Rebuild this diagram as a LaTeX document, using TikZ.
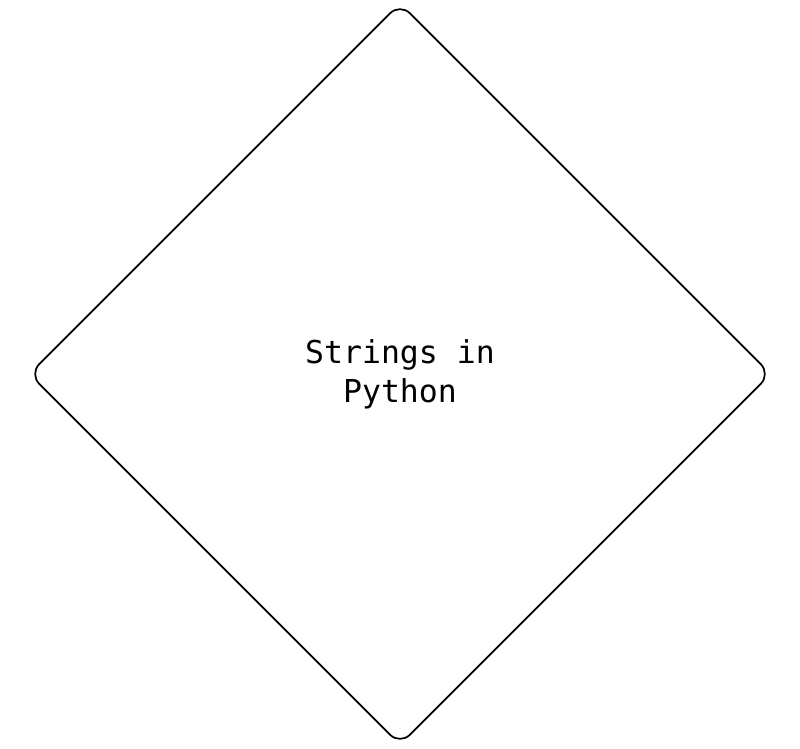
\documentclass[tikz,border=0pt]{standalone}
\usepackage{fontspec}
\setmonofont{DejaVu Sans Mono}
\usetikzlibrary{shapes.geometric}
\definecolor{BLACK}{HTML}{000000}
\definecolor{WHITE}{HTML}{FFFFFF}
\begin{document}
\begin{tikzpicture}[x=1pt, y=-1pt]
    \useasboundingbox[fill=WHITE] (0,0) rectangle (800,748);
    \node[BLACK, draw, line width=1.7pt, diamond, rounded corners=14pt, minimum width=742pt, minimum height=742pt, inner sep=0pt, align=center, font=\ttfamily\fontsize{31.5}{39}\selectfont] (topic) at (400,374) {Strings in\\Python};
\end{tikzpicture}
\end{document}
